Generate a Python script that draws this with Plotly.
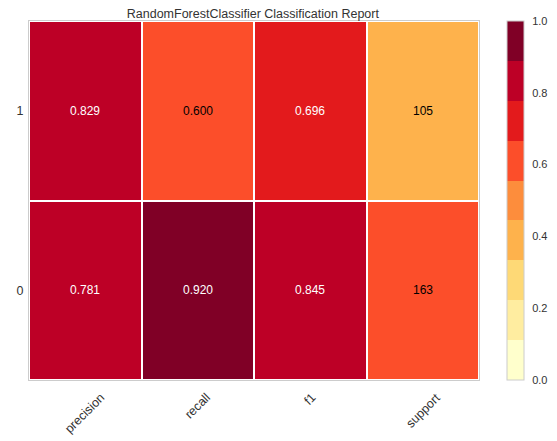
import plotly.graph_objects as go

# classification report values
metrics = ["precision", "recall", "f1", "support"]
classes = ["0", "1"]
precision = [0.781, 0.829]
recall = [0.920, 0.600]
f1 = [0.845, 0.696]
support = [163, 105]

# YlOrRd, 9 bins as in the yellowbrick colormap
bin_colors = ["#ffffcc", "#ffeda0", "#fed976", "#feb24c", "#fd8d3c",
              "#fc4e2a", "#e31a1c", "#bd0026", "#800026"]

total = sum(support)
z = []
labels = []
for i in range(len(classes)):
    row_vals = [precision[i], recall[i], f1[i], support[i] / total]
    z.append(row_vals)
    labels.append([f"{precision[i]:.3f}", f"{recall[i]:.3f}", f"{f1[i]:.3f}", f"{support[i]}"])

# build a stepped colorscale
n = len(bin_colors)
colorscale = []
for k, c in enumerate(bin_colors):
    colorscale.append([k / n, c])
    colorscale.append([(k + 1) / n, c])

fig = go.Figure(go.Heatmap(
    z=z, x=metrics, y=classes,
    zmin=0, zmax=1,
    colorscale=colorscale,
    xgap=2, ygap=2,
    hoverinfo="skip",
    colorbar=dict(
        thickness=17, len=1, lenmode="fraction",
        x=1.062, xanchor="left", xpad=0, y=0.5, yanchor="middle", ypad=0,
        outlinecolor="#cccccc", outlinewidth=1,
        tickvals=[0, 0.2, 0.4, 0.6, 0.8, 1.0], tickformat=".1f",
        ticks="outside", ticklen=6, tickcolor="rgba(0,0,0,0)",
        tickfont=dict(size=11, color="#333333"),
    ),
))

# cell labels: dark text on the lighter cells
annotations = []
for i, cls in enumerate(classes):
    for j, m in enumerate(metrics):
        color = "black" if z[i][j] < 0.65 else "white"
        annotations.append(dict(x=m, y=cls, xref="x", yref="y", text=labels[i][j],
                                showarrow=False, font=dict(size=12, color=color)))

# rotated x labels, centred under each column like matplotlib's rotation=45
for m in metrics:
    annotations.append(dict(x=m, y=0, xref="x", yref="paper", text=m, showarrow=False,
                            textangle=-45, xanchor="center", yanchor="top", yshift=-8,
                            font=dict(size=12.5, color="#333333")))

# the page body has an 8px margin, so the figure is sized to fit the window
fig.update_layout(
    width=549, height=433,
    margin=dict(l=21, r=78, t=13, b=61, autoexpand=False),
    paper_bgcolor="white", plot_bgcolor="white",
    font=dict(family="Liberation Sans, Arial, sans-serif", color="#333333"),
    title=dict(text="RandomForestClassifier Classification Report", x=0.446, xanchor="center",
               y=1, yanchor="top", pad=dict(t=1), font=dict(size=12.5, color="#333333")),
    annotations=annotations,
    xaxis=dict(showticklabels=False, showgrid=False, zeroline=False,
               showline=True, linecolor="#cccccc", mirror=True, ticks=""),
    yaxis=dict(tickfont=dict(size=12.5, color="#333333"), showgrid=False, zeroline=False,
               showline=True, linecolor="#cccccc", mirror=True, ticks="outside",
               ticklen=2, tickcolor="rgba(0,0,0,0)"),
)

fig.write_html("out.html")
